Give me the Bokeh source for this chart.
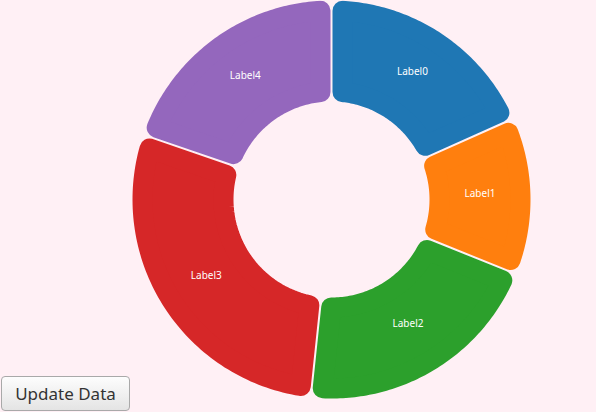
import numpy as np
from bokeh.plotting import figure
from bokeh.models import Range1d, ColumnDataSource, Button, Spacer, InlineStyleSheet
from bokeh.layouts import row, column
from bokeh.core.properties import value
from bokeh.embed import file_html
from bokeh.resources import INLINE

# ---- data ----
labels = ["Label0", "Label1", "Label2", "Label3", "Label4"]
values = [66, 46, 74, 103, 71]
colors = ["#1f77b4", "#ff7f0e", "#2ca02c", "#d62728", "#9467bd"]
button_label = "Update Data"

# ---- geometry (pixels) ----
BG = "#fff0f5"
W, H = 466, 412
CX, CY = 331 - 130, 199          # donut centre inside the figure (px from left / top)
R_IN, R_OUT = 98, 199
CORNER = 10
GAP = 2

total = float(sum(values))
ends = np.cumsum(values) / total * 360.0
starts = np.concatenate([[0.0], ends[:-1]])


def u(t):
    t = np.radians(t)
    return np.array([np.sin(t), np.cos(t)])


def nrm(t):
    t = np.radians(t)
    return np.array([np.cos(t), -np.sin(t)])


def slice_poly(a0, a1):
    d = GAP / 2.0 + CORNER
    ri, ro = R_IN + CORNER, R_OUT - CORNER

    def corner(a, sign, R):
        return nrm(a) * d * sign + u(a) * np.sqrt(R * R - d * d)

    so, eo = corner(a0, 1, ro), corner(a1, -1, ro)
    si, ei = corner(a0, 1, ri), corner(a1, -1, ri)
    ang = lambda p: np.degrees(np.arctan2(p[0], p[1]))
    t_so, t_eo = ang(so), ang(eo)
    t_si, t_ei = ang(si), ang(ei)
    if t_eo < t_so:
        t_eo += 360
    if t_ei < t_si:
        t_ei += 360
    to = np.linspace(t_so, t_eo, 80)
    ti = np.linspace(t_ei, t_si, 60)
    xs = list(ro * np.sin(np.radians(to))) + list(ri * np.sin(np.radians(ti)))
    ys = list(ro * np.cos(np.radians(to))) + list(ri * np.cos(np.radians(ti)))
    return xs, ys


xs_list, ys_list, lx, ly = [], [], [], []
rmid = (R_IN + R_OUT) / 2.0
for a0, a1 in zip(starts, ends):
    xs, ys = slice_poly(a0, a1)
    xs_list.append(xs)
    ys_list.append(ys)
    m = (a0 + a1) / 2.0
    lx.append(rmid * np.sin(np.radians(m)))
    ly.append(rmid * np.cos(np.radians(m)))

src = ColumnDataSource(dict(xs=xs_list, ys=ys_list, color=colors))
lsrc = ColumnDataSource(dict(x=lx, y=ly, text=labels))

p = figure(width=W, height=H, output_backend="svg", toolbar_location=None,
           x_range=Range1d(-CX, W - CX), y_range=Range1d(-(H - CY), CY),
           min_border=0, outline_line_color=None,
           background_fill_color=BG, border_fill_color=BG)
p.axis.visible = False
p.grid.visible = False
p.xaxis.visible = False
p.yaxis.visible = False

p.patches("xs", "ys", source=src, fill_color="color", line_color="color",
          line_width=2 * CORNER, line_join="round")
p.text("x", "y", text="text", source=lsrc, text_color="white",
       text_font=value("Noto Sans"), text_font_size="10px",
       text_align="center", text_baseline="middle", y_offset=-4)

css = InlineStyleSheet(css="""
.bk-btn {
  font-family: 'Noto Sans', sans-serif !important;
  font-size: 17px !important;
  color: #333 !important;
  background: linear-gradient(#fdfdfd, #e4e4e4) !important;
  border: 1px solid #a9a9a9 !important;
  border-radius: 4px !important;
  width: 129px !important;
  height: 35px !important;
  padding: 0 !important;
}
""")
btn = Button(label=button_label, width=129, height=35, margin=(0, 0, 0, 1),
             stylesheets=[css])

left = column(Spacer(width=130, height=376, margin=0), btn, width=130, height=412,
              spacing=0, margin=0)
layout = row(left, p, spacing=0, margin=0, width=596, height=412,
             styles={"background-color": BG})

open("out.html", "w").write(file_html(layout, INLINE))
